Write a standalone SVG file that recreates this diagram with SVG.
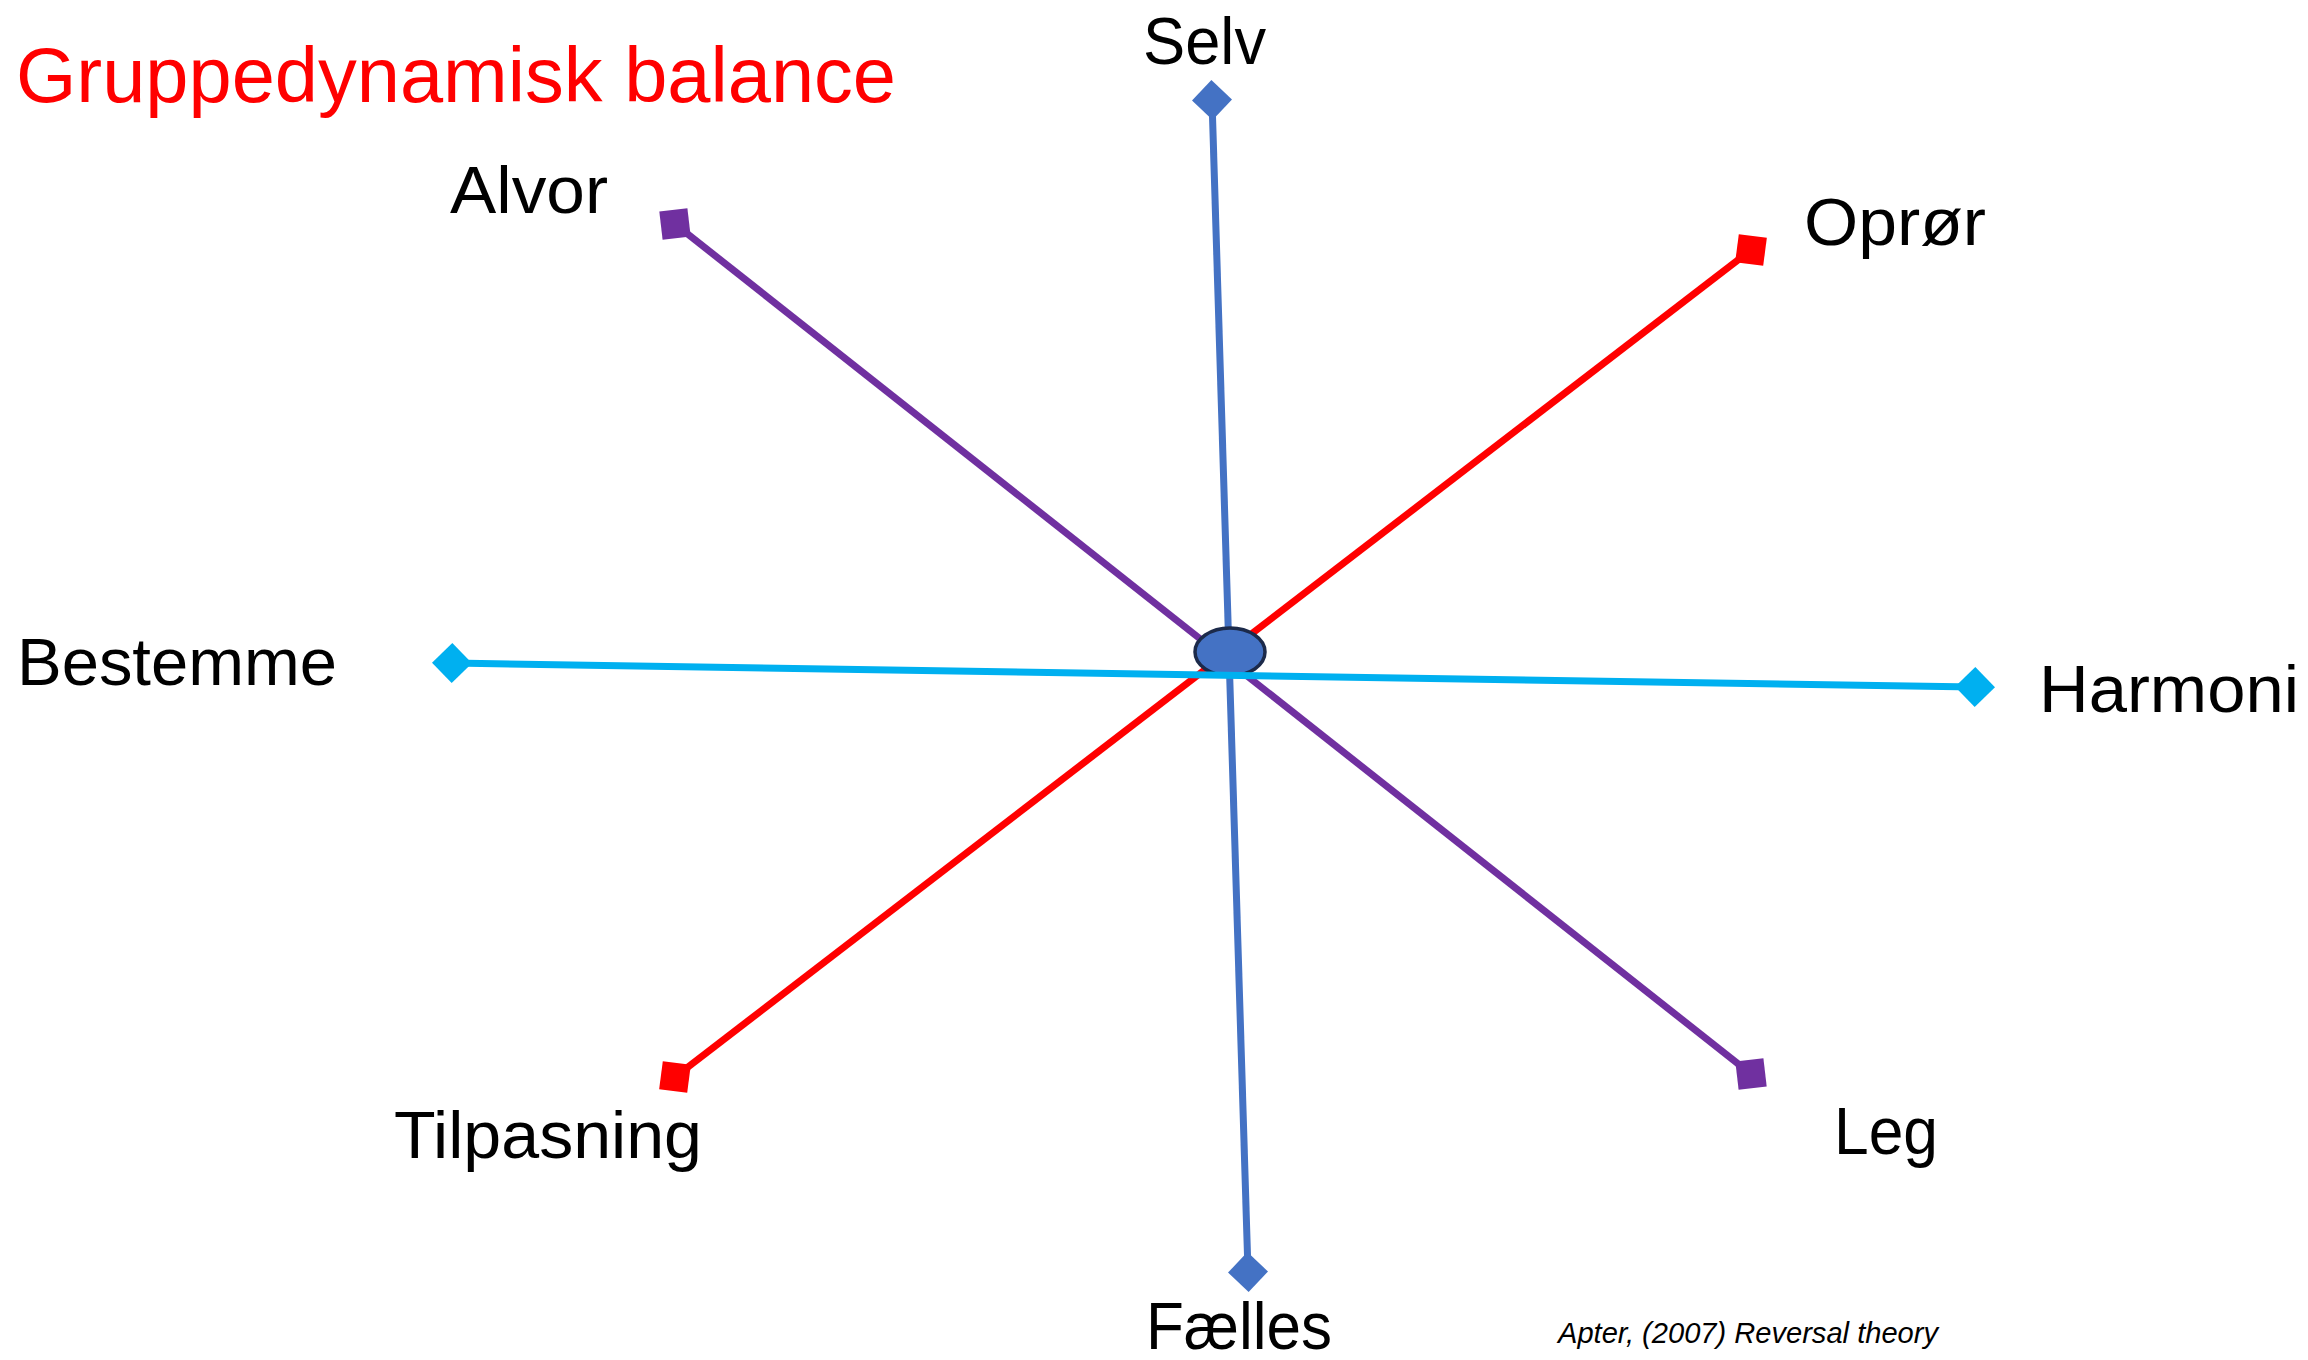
<svg xmlns="http://www.w3.org/2000/svg" width="2308" height="1360" viewBox="0 0 2308 1360">
  <style>
    .lbl { font-family: "Liberation Sans", Arial, sans-serif; font-size: 66px; fill: #000000; }
    .title { font-family: "Liberation Sans", Arial, sans-serif; font-size: 77px; fill: #FF0000; }
    .cite { font-family: "Liberation Sans", Arial, sans-serif; font-size: 29px; font-style: italic; fill: #000000; }
    .axis { fill: none; stroke-width: 7; stroke-linecap: butt; }
  </style>
  <defs>
    <marker id="dBlue" markerUnits="userSpaceOnUse" viewBox="-21 -21 42 42" markerWidth="42" markerHeight="42" refX="0" refY="0" orient="auto">
      <path d="M-20,0 L0,-20 L20,0 L0,20 Z" fill="#4472C4"/>
    </marker>
    <marker id="dCyan" markerUnits="userSpaceOnUse" viewBox="-21 -21 42 42" markerWidth="42" markerHeight="42" refX="0" refY="0" orient="auto">
      <path d="M-20,0 L0,-20 L20,0 L0,20 Z" fill="#00B0F0"/>
    </marker>
    <marker id="dRed" markerUnits="userSpaceOnUse" viewBox="-21 -21 42 42" markerWidth="42" markerHeight="42" refX="0" refY="0" orient="auto">
      <path d="M-20,0 L0,-20 L20,0 L0,20 Z" fill="#FF0000"/>
    </marker>
    <marker id="dPurple" markerUnits="userSpaceOnUse" viewBox="-21 -21 42 42" markerWidth="42" markerHeight="42" refX="0" refY="0" orient="auto">
      <path d="M-20,0 L0,-20 L20,0 L0,20 Z" fill="#7030A0"/>
    </marker>
  </defs>
  <rect x="0" y="0" width="2308" height="1360" fill="#FFFFFF"/>

  <g id="title">
    <text class="title" x="16" y="102" textLength="880" lengthAdjust="spacingAndGlyphs">Gruppedynamisk balance</text>
  </g>

  <g id="connectors">
    <line class="axis" x1="1212" y1="100" x2="1248" y2="1272" stroke="#4472C4" stroke-width="6" marker-start="url(#dBlue)" marker-end="url(#dBlue)"/>
    <line class="axis" x1="675" y1="224" x2="1751" y2="1074" stroke="#7030A0" marker-start="url(#dPurple)" marker-end="url(#dPurple)"/>
    <line class="axis" x1="1751" y1="250" x2="675" y2="1077" stroke="#FF0000" marker-start="url(#dRed)" marker-end="url(#dRed)"/>
  </g>

  <g id="center">
    <ellipse cx="1230" cy="652" rx="35" ry="24" fill="#4472C4" stroke="#1C2A4A" stroke-width="3.5"/>
  </g>

  <g id="connector-horizontal">
    <line class="axis" x1="452" y1="663" x2="1975" y2="687" stroke="#00B0F0" marker-start="url(#dCyan)" marker-end="url(#dCyan)"/>
  </g>

  <g id="node-selv"><text class="lbl" x="1143" y="64" textLength="123" lengthAdjust="spacingAndGlyphs">Selv</text></g>
  <g id="node-faelles"><text class="lbl" x="1146" y="1349" textLength="186" lengthAdjust="spacingAndGlyphs">Fælles</text></g>
  <g id="node-alvor"><text class="lbl" x="450" y="213" textLength="158" lengthAdjust="spacingAndGlyphs">Alvor</text></g>
  <g id="node-leg"><text class="lbl" x="1834" y="1154" textLength="104" lengthAdjust="spacingAndGlyphs">Leg</text></g>
  <g id="node-opror"><text class="lbl" x="1804" y="245" textLength="182" lengthAdjust="spacingAndGlyphs">Oprør</text></g>
  <g id="node-tilpasning"><text class="lbl" x="394" y="1158" textLength="308" lengthAdjust="spacingAndGlyphs">Tilpasning</text></g>
  <g id="node-bestemme"><text class="lbl" x="17" y="685" textLength="320" lengthAdjust="spacingAndGlyphs">Bestemme</text></g>
  <g id="node-harmoni"><text class="lbl" x="2039" y="712" textLength="260" lengthAdjust="spacingAndGlyphs">Harmoni</text></g>

  <g id="citation">
    <text class="cite" x="1558" y="1343" textLength="380" lengthAdjust="spacingAndGlyphs">Apter, (2007) Reversal theory</text>
  </g>
</svg>
